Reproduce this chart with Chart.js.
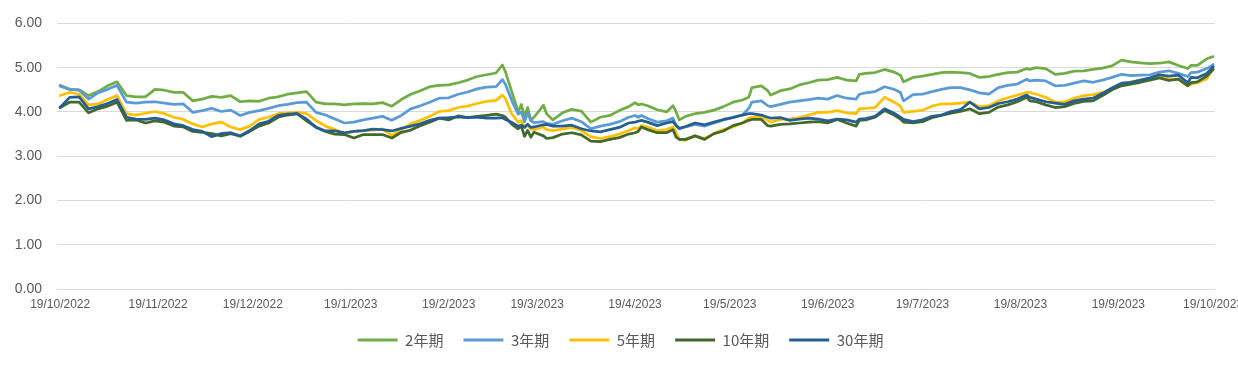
<!DOCTYPE html>
<html>
<head>
<meta charset="utf-8">
<script src="https://cdn.jsdelivr.net/npm/chart.js@4.4.1/dist/chart.umd.min.js"></script>
<style>
  html, body { margin: 0; padding: 0; background: #fff; }
  #wrap { width: 1238px; height: 369px; }
</style>
</head>
<body>
<div id="wrap"><canvas id="yieldChart" width="1238" height="369"></canvas></div>
<script>
// days counted from 19/10/2022
const days = [
  0, 3, 6, 9, 12, 15, 18, 21, 24, 27, 30, 33, 36, 39, 42, 45, 48, 51, 54, 57, 60,
  63, 66, 69, 72, 75, 78, 81, 84, 87, 90, 93, 96, 99, 102, 105, 108, 111, 114, 117, 120,
  123, 126, 129, 132, 135, 138, 140, 141, 143, 145, 146, 147, 148, 149, 150, 153, 154, 156, 159, 162, 165, 168, 171, 174, 177, 180, 182, 183,
  184, 186, 189, 192, 194, 195, 196, 198, 201, 204, 207, 210, 213, 216, 218, 219, 222, 224, 225, 228, 231, 234, 237, 240, 243, 246,
  249, 252, 253, 255, 258, 261, 264, 266, 267, 270, 273, 276, 279, 282, 285, 288, 291, 294, 297, 300, 303, 306,
  307, 309, 312, 315, 318, 321, 324, 327, 330, 333, 336, 339, 342, 345, 348, 351, 354, 357, 358, 360, 363, 365
];

const seriesNames = ['2年期', '3年期', '5年期', '10年期', '30年期'];

const y2 = [
  4.58, 4.51, 4.50, 4.37, 4.46, 4.59, 4.68, 4.37, 4.34, 4.34, 4.51, 4.49, 4.44, 4.44, 4.25, 4.29, 4.35, 4.33, 4.37, 4.23, 4.25,
  4.24, 4.31, 4.34, 4.40, 4.43, 4.46, 4.22, 4.18, 4.18, 4.16, 4.18, 4.19, 4.18, 4.21, 4.13, 4.28, 4.40, 4.48, 4.57, 4.60,
  4.61, 4.66, 4.72, 4.80, 4.84, 4.88, 5.06, 4.90, 4.45, 4.00, 4.17, 3.90, 4.10, 3.82, 3.88, 4.15, 3.96, 3.82, 3.98, 4.06, 4.02, 3.77, 3.88, 3.92, 4.03, 4.12, 4.21, 4.16,
  4.18, 4.14, 4.05, 4.00, 4.14, 4.00, 3.82, 3.90, 3.96, 3.99, 4.04, 4.12, 4.22, 4.27, 4.33, 4.55, 4.59, 4.48, 4.38, 4.48, 4.52, 4.61, 4.66, 4.72, 4.73, 4.78,
  4.72, 4.70, 4.85, 4.87, 4.89, 4.96, 4.90, 4.83, 4.68, 4.78, 4.81, 4.85, 4.89, 4.90, 4.89, 4.87, 4.78, 4.80, 4.85, 4.89, 4.90, 4.98,
  4.96, 5.00, 4.98, 4.85, 4.87, 4.92, 4.93, 4.96, 4.99, 5.04, 5.17, 5.13, 5.11, 5.09, 5.10, 5.13, 5.05, 4.98, 5.05, 5.05, 5.20, 5.25
];

const y3 = [
  4.60, 4.51, 4.49, 4.29, 4.43, 4.51, 4.60, 4.22, 4.20, 4.22, 4.23, 4.20, 4.17, 4.18, 3.99, 4.03, 4.08, 4.01, 4.04, 3.92, 3.99,
  4.03, 4.08, 4.14, 4.17, 4.21, 4.22, 3.99, 3.93, 3.84, 3.75, 3.77, 3.82, 3.86, 3.90, 3.81, 3.92, 4.07, 4.14, 4.22, 4.31,
  4.32, 4.40, 4.45, 4.52, 4.56, 4.57, 4.73, 4.62, 4.25, 3.95, 4.00, 3.78, 3.98, 3.80, 3.76, 3.78, 3.74, 3.72, 3.80, 3.86, 3.78, 3.62, 3.68, 3.72, 3.78, 3.88, 3.92, 3.88,
  3.92, 3.85, 3.77, 3.80, 3.86, 3.70, 3.62, 3.66, 3.72, 3.68, 3.75, 3.82, 3.88, 3.93, 4.08, 4.22, 4.25, 4.14, 4.12, 4.17, 4.22, 4.25, 4.28, 4.31, 4.29, 4.37,
  4.31, 4.29, 4.40, 4.43, 4.46, 4.57, 4.51, 4.44, 4.25, 4.39, 4.40, 4.46, 4.51, 4.55, 4.55, 4.50, 4.43, 4.40, 4.55, 4.60, 4.63, 4.74,
  4.70, 4.72, 4.70, 4.59, 4.60, 4.65, 4.70, 4.67, 4.72, 4.78, 4.85, 4.82, 4.83, 4.84, 4.90, 4.93, 4.87, 4.80, 4.89, 4.90, 4.98, 5.07
];

const y5 = [
  4.37, 4.44, 4.40, 4.16, 4.18, 4.28, 4.37, 3.96, 3.93, 3.97, 4.01, 3.96, 3.88, 3.83, 3.73, 3.66, 3.73, 3.77, 3.66, 3.60, 3.68,
  3.83, 3.88, 3.96, 3.98, 3.99, 3.96, 3.81, 3.68, 3.60, 3.51, 3.56, 3.58, 3.59, 3.62, 3.47, 3.60, 3.73, 3.81, 3.90, 4.01,
  4.03, 4.10, 4.13, 4.19, 4.24, 4.26, 4.38, 4.30, 3.95, 3.77, 3.80, 3.66, 3.70, 3.62, 3.60, 3.66, 3.60, 3.58, 3.61, 3.65, 3.58, 3.44, 3.40, 3.44, 3.50, 3.58, 3.64, 3.62,
  3.69, 3.66, 3.58, 3.60, 3.66, 3.53, 3.38, 3.36, 3.46, 3.40, 3.51, 3.60, 3.66, 3.75, 3.86, 3.88, 3.90, 3.81, 3.77, 3.83, 3.84, 3.87, 3.93, 3.99, 3.99, 4.03,
  3.98, 3.96, 4.07, 4.08, 4.10, 4.33, 4.22, 4.13, 3.99, 4.01, 4.04, 4.13, 4.18, 4.18, 4.20, 4.22, 4.12, 4.14, 4.25, 4.32, 4.38, 4.44,
  4.44, 4.40, 4.33, 4.22, 4.23, 4.31, 4.37, 4.39, 4.44, 4.53, 4.63, 4.68, 4.72, 4.75, 4.81, 4.74, 4.74, 4.59, 4.63, 4.66, 4.75, 4.98
];

const y10 = [
  4.10, 4.22, 4.22, 3.98, 4.07, 4.13, 4.22, 3.81, 3.82, 3.75, 3.80, 3.77, 3.68, 3.66, 3.56, 3.54, 3.51, 3.46, 3.51, 3.45, 3.56,
  3.68, 3.75, 3.88, 3.93, 3.96, 3.80, 3.66, 3.56, 3.50, 3.49, 3.41, 3.49, 3.49, 3.49, 3.41, 3.54, 3.59, 3.69, 3.77, 3.86,
  3.82, 3.91, 3.87, 3.90, 3.92, 3.95, 3.92, 3.88, 3.72, 3.62, 3.68, 3.45, 3.58, 3.43, 3.54, 3.46, 3.40, 3.42, 3.50, 3.53, 3.48, 3.34, 3.33, 3.38, 3.42, 3.50, 3.53, 3.56,
  3.66, 3.60, 3.53, 3.53, 3.60, 3.43, 3.38, 3.38, 3.46, 3.38, 3.51, 3.57, 3.69, 3.75, 3.81, 3.83, 3.83, 3.69, 3.68, 3.72, 3.73, 3.75, 3.77, 3.78, 3.75, 3.83,
  3.75, 3.68, 3.81, 3.82, 3.88, 4.03, 3.93, 3.84, 3.77, 3.75, 3.78, 3.87, 3.92, 3.97, 4.01, 4.07, 3.96, 3.99, 4.11, 4.16, 4.23, 4.33,
  4.25, 4.23, 4.16, 4.10, 4.12, 4.19, 4.24, 4.25, 4.37, 4.50, 4.59, 4.63, 4.67, 4.72, 4.77, 4.71, 4.74, 4.59, 4.66, 4.68, 4.81, 4.96
];

const y30 = [
  4.10, 4.33, 4.34, 4.07, 4.12, 4.19, 4.28, 3.88, 3.84, 3.83, 3.86, 3.82, 3.73, 3.69, 3.60, 3.56, 3.44, 3.51, 3.53, 3.46, 3.58,
  3.73, 3.79, 3.92, 3.95, 3.96, 3.84, 3.65, 3.57, 3.57, 3.53, 3.56, 3.58, 3.61, 3.60, 3.57, 3.63, 3.68, 3.73, 3.81, 3.86,
  3.87, 3.89, 3.87, 3.88, 3.86, 3.86, 3.87, 3.83, 3.76, 3.68, 3.70, 3.65, 3.72, 3.65, 3.66, 3.71, 3.72, 3.68, 3.68, 3.70, 3.62, 3.57, 3.55, 3.60, 3.65, 3.75, 3.77, 3.79,
  3.81, 3.77, 3.69, 3.75, 3.78, 3.69, 3.63, 3.67, 3.75, 3.71, 3.77, 3.83, 3.87, 3.93, 3.96, 3.96, 3.93, 3.88, 3.86, 3.87, 3.81, 3.84, 3.86, 3.84, 3.80, 3.84,
  3.82, 3.77, 3.84, 3.85, 3.90, 4.07, 3.97, 3.88, 3.83, 3.78, 3.82, 3.90, 3.93, 4.01, 4.05, 4.22, 4.07, 4.10, 4.19, 4.23, 4.29, 4.38,
  4.33, 4.29, 4.23, 4.20, 4.17, 4.25, 4.29, 4.31, 4.42, 4.54, 4.65, 4.67, 4.72, 4.77, 4.84, 4.81, 4.83, 4.66, 4.78, 4.77, 4.87, 5.02
];

// x-axis ticks: the 19th of each month
const tickDays = [0, 31, 61, 92, 123, 151, 182, 212, 243, 273, 304, 335, 365];
const tickLabels = [
  '19/10/2022', '19/11/2022', '19/12/2022', '19/1/2023', '19/2/2023', '19/3/2023',
  '19/4/2023', '19/5/2023', '19/6/2023', '19/7/2023', '19/8/2023', '19/9/2023', '19/10/2023'
];

const lineColors = ['#70AD47', '#5B9BD5', '#FFC000', '#43682B', '#255E91'];

document.addEventListener('DOMContentLoaded', () => {
  const canvas = document.getElementById('yieldChart');
  const ctx = canvas.getContext('2d');
  const textColor = '#595959';

  Chart.defaults.font.family = '"Liberation Sans", Arial, sans-serif';

  const allSeries = [y2, y3, y5, y10, y30];

  // later series sit on top, as in the original
  const datasets = allSeries.map((values, i) => ({
    label: seriesNames[i],
    data: values.map((v, j) => ({ x: days[j], y: v })),
    borderColor: lineColors[i],
    backgroundColor: lineColors[i],
    borderWidth: 2.75,
    pointRadius: 0,
    tension: 0,
    borderJoinStyle: 'round',
    borderCapStyle: 'round',
    order: allSeries.length - i
  }));

  // the legend row sits a little right of the plot centre
  const legendShift = {
    id: 'legendShift',
    afterLayout: (chart) => {
      if (!chart.legend) return;
      chart.legend.left += 13;
      chart.legend.right += 13;
    }
  };

  new Chart(ctx, {
    type: 'line',
    data: { datasets },
    options: {
      responsive: false,
      animation: false,
      layout: {
        padding: { top: 20, right: 23, bottom: 11.5, left: 0 }
      },
      plugins: {
        tooltip: { enabled: false },
        legend: {
          position: 'bottom',
          labels: {
            color: textColor,
            font: { family: '"Noto Sans CJK SC", sans-serif', size: 15 },
            boxWidth: 40,
            boxHeight: 3,
            padding: 20,
            sort: (a, b) => a.datasetIndex - b.datasetIndex,
            generateLabels: (chart) =>
              Chart.defaults.plugins.legend.labels.generateLabels(chart)
                .map((item) => ({ ...item, lineWidth: 0 }))
          }
        }
      },
      scales: {
        x: {
          type: 'linear',
          min: -1,
          max: 365.6,
          grid: { display: false, drawTicks: false },
          border: { display: false },
          ticks: {
            color: textColor,
            font: { size: 12 },
            padding: 8,
            autoSkip: false,
            maxRotation: 0,
            minRotation: 0,
            callback: (value, index) => tickLabels[index]
          },
          afterBuildTicks: (scale) => {
            scale.ticks = tickDays.map((value) => ({ value }));
          },
          afterFit: (scale) => {
            scale.paddingLeft = 0;
            scale.paddingRight = 0;
            scale.height = 23.5;
          }
        },
        y: {
          min: 0,
          max: 6,
          grid: { color: '#d9d9d9', lineWidth: 1, drawTicks: false },
          border: { display: false },
          ticks: {
            stepSize: 1,
            padding: 15,
            color: textColor,
            font: { size: 14 },
            callback: (value) => value.toFixed(2)
          },
          afterFit: (scale) => {
            scale.width = 57;
          }
        }
      }
    },
    plugins: [legendShift]
  });
});
</script>
</body>
</html>
